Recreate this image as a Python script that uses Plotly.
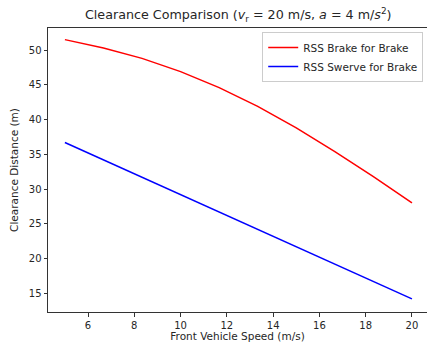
import plotly.graph_objects as go

speed = [5.0, 6.667, 8.333, 10.0, 11.667, 13.333, 15.0, 16.667, 18.333, 20.0]
brake = [51.5, 50.3, 48.8, 46.9, 44.6, 41.9, 38.8, 35.4, 31.8, 28.0]
swerve = [36.7, 34.2, 31.7, 29.2, 26.7, 24.2, 21.7, 19.2, 16.7, 14.2]
names = ["RSS Brake for Brake", "RSS Swerve for Brake"]

fnt = "DejaVu Sans, sans-serif"
fig = go.Figure()
fig.add_trace(go.Scatter(x=speed, y=brake, mode="lines", name=names[0],
                         line=dict(color="#ff0000", width=1.5)))
fig.add_trace(go.Scatter(x=speed, y=swerve, mode="lines", name=names[1],
                         line=dict(color="#0000ff", width=1.5)))

fig.update_layout(
    width=427, height=350,
    margin=dict(l=48, r=0, t=28, b=38),
    paper_bgcolor="white", plot_bgcolor="white",
    font=dict(family=fnt, size=10, color="#262626"),
    title=dict(text="Clearance Comparison (<i>v</i><sub>r</sub> = 20 m/s, <i>a</i> = 4 m/<i>s</i><sup>2</sup>)",
               x=0.558, xanchor="center", y=0.957, yanchor="middle",
               font=dict(size=12.7, color="#262626")),
    legend=dict(x=0.99, xanchor="right", y=0.986, yanchor="top",
                bgcolor="white", bordercolor="#cccccc", borderwidth=1,
                font=dict(size=10.5), tracegroupgap=0),
    showlegend=True,
)
fig.update_xaxes(range=[4.27, 20.65], tickvals=[6, 8, 10, 12, 14, 16, 18, 20],
                 showgrid=False, zeroline=False, showline=True, linecolor="#333333",
                 linewidth=1, mirror=True, ticks="outside", ticklen=3.5, tickcolor="#333333",
                 tickfont=dict(size=10),
                 title=dict(text="Front Vehicle Speed (m/s)", standoff=3, font=dict(size=10.5)))
fig.update_yaxes(range=[12.31, 53.17], tickvals=[15, 20, 25, 30, 35, 40, 45, 50],
                 showgrid=False, zeroline=False, showline=True, linecolor="#333333",
                 linewidth=1, ticks="outside", ticklen=3.5, tickcolor="#333333",
                 tickfont=dict(size=10),
                 title=dict(text="Clearance Distance (m)", standoff=8, font=dict(size=10.5)))
fig.write_html("out.html")
